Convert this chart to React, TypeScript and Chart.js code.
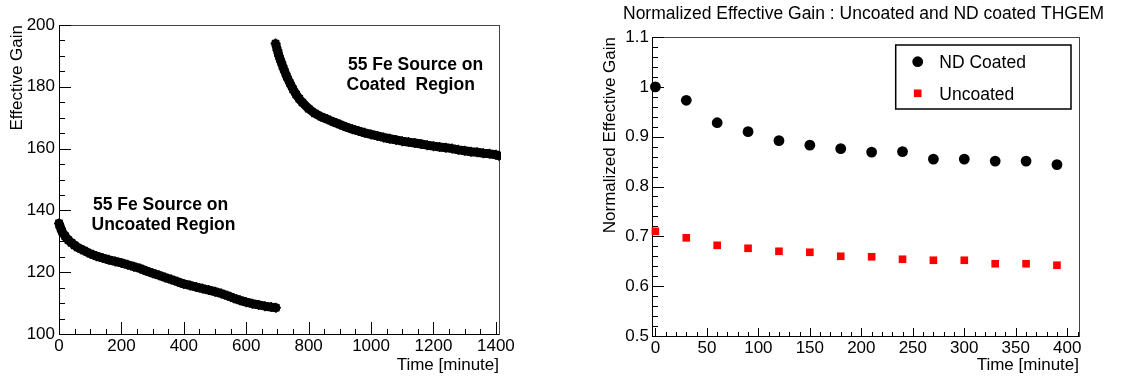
import React, { useEffect, useRef } from 'react';
import { Chart, registerables } from 'chart.js';

Chart.register(...registerables);

// ---------- Left panel data (Effective gain vs time) ----------
const uncoatedRunTime = [0, 5, 10, 20, 30, 40, 50, 60, 80, 100, 120, 140, 160, 180, 200, 220, 240, 260, 280, 300, 320, 340, 360, 380, 400, 420, 440, 460, 480, 500, 520, 540, 560, 580, 600, 620, 640, 660, 680, 695];
const uncoatedRunGain = [135.8, 134.3, 133.1, 131.6, 130.4, 129.5, 128.7, 128.0, 127.0, 126.0, 125.2, 124.6, 124.0, 123.5, 123.0, 122.4, 121.8, 121.2, 120.4, 119.7, 119.0, 118.3, 117.6, 116.9, 116.2, 115.7, 115.2, 114.7, 114.2, 113.7, 113.1, 112.4, 111.6, 110.9, 110.3, 109.8, 109.4, 109.0, 108.7, 108.5];
const coatedRunTime = [694, 700, 705, 712, 720, 730, 740, 750, 760, 770, 780, 800, 820, 840, 860, 880, 900, 920, 940, 960, 980, 1000, 1020, 1040, 1060, 1080, 1100, 1120, 1140, 1160, 1180, 1200, 1220, 1240, 1260, 1280, 1300, 1320, 1340, 1360, 1380, 1400, 1410];
const coatedRunGain = [194.0, 191.8, 190.0, 188.0, 185.8, 183.3, 181.2, 179.2, 177.5, 176.1, 174.9, 172.9, 171.4, 170.3, 169.5, 168.6, 167.8, 167.0, 166.3, 165.7, 165.1, 164.6, 164.1, 163.6, 163.2, 162.8, 162.4, 162.1, 161.8, 161.5, 161.1, 160.8, 160.5, 160.3, 160.0, 159.6, 159.3, 159.0, 158.8, 158.5, 158.3, 158.0, 157.7];
const leftXTicks = [0, 200, 400, 600, 800, 1000, 1200, 1400];
const leftYTicks = [100, 120, 140, 160, 180, 200];

// ---------- Right panel data (normalized gain) ----------
const normTime = [0, 30, 60, 90, 120, 150, 180, 210, 240, 270, 300, 330, 360, 390];
const ndCoatedGain = [1.0, 0.973, 0.928, 0.910, 0.892, 0.883, 0.876, 0.869, 0.870, 0.855, 0.855, 0.851, 0.851, 0.844];
const uncoatedGain = [0.710, 0.697, 0.682, 0.676, 0.670, 0.668, 0.660, 0.659, 0.654, 0.652, 0.652, 0.645, 0.645, 0.642];
const rightXTicks = [0, 50, 100, 150, 200, 250, 300, 350, 400];
const rightYTicks = [0.5, 0.6, 0.7, 0.8, 0.9, 1, 1.1];

const FONT = '"Liberation Sans", Arial, Helvetica, sans-serif';

const zip = (xs: number[], ys: number[]) => xs.map((x, i) => ({ x, y: ys[i] }));

// Draws a ROOT-like frame with inward tick marks
const rootFrame = {
  id: 'rootFrame',
  beforeDatasetsDraw(chart: any, _args: any, opts: any) {
    const { ctx, chartArea: a, scales } = chart;
    const xs = scales.x;
    const ys = scales.y;
    ctx.save();
    ctx.lineWidth = 1;
    ctx.strokeStyle = '#444';
    ctx.strokeRect(Math.round(a.left) + 0.5, Math.round(a.top) + 0.5, Math.round(a.right - a.left), Math.round(a.bottom - a.top));
    ctx.strokeStyle = '#000';
    ctx.beginPath();
    ctx.moveTo(Math.round(a.left) + 0.5, a.top);
    ctx.lineTo(Math.round(a.left) + 0.5, Math.round(a.bottom) + 0.5);
    ctx.lineTo(a.right, Math.round(a.bottom) + 0.5);
    ctx.stroke();
    const isMajor = (v: number, list: number[]) => list.some((t) => Math.abs(t - v) < 1e-6);
    ctx.beginPath();
    for (let i = 0; ; i++) {
      const v = opts.xStart + i * opts.xMinor;
      if (v > xs.max + 1e-9) break;
      if (v < xs.min - 1e-9) continue;
      const px = Math.round(xs.getPixelForValue(v)) + 0.5;
      const len = isMajor(v, opts.xMajorList) ? opts.xMajorLen : opts.xMinorLen;
      ctx.moveTo(px, a.bottom);
      ctx.lineTo(px, a.bottom - len);
    }
    for (let i = 0; ; i++) {
      const v = opts.yStart + i * opts.yMinor;
      if (v > ys.max + 1e-9) break;
      const py = Math.round(ys.getPixelForValue(v)) + 0.5;
      const len = isMajor(Math.round(v * 1e6) / 1e6, opts.yMajorList) ? opts.yMajorLen : opts.yMinorLen;
      ctx.moveTo(a.left, py);
      ctx.lineTo(a.left + len, py);
    }
    ctx.stroke();
    ctx.restore();
  },
};

// Free text (titles, annotations)
const freeText = {
  id: 'freeText',
  afterDraw(chart: any, _args: any, opts: any) {
    const { ctx } = chart;
    ctx.save();
    ctx.fillStyle = '#000';
    ctx.textBaseline = 'alphabetic';
    ctx.textAlign = 'left';
    (opts.items || []).forEach((it: any) => {
      ctx.font = it.font;
      ctx.fillText(it.text, it.x, it.y);
    });
    ctx.restore();
  },
};

// ROOT-like legend box
const boxLegend = {
  id: 'boxLegend',
  afterDraw(chart: any, _args: any, opts: any) {
    if (!opts || !opts.show) return;
    const { ctx } = chart;
    ctx.save();
    ctx.fillStyle = '#fff';
    ctx.fillRect(opts.left, opts.top, opts.right - opts.left, opts.bottom - opts.top);
    ctx.lineWidth = 1.5;
    ctx.strokeStyle = '#000';
    ctx.strokeRect(opts.left, opts.top, opts.right - opts.left, opts.bottom - opts.top);
    chart.data.datasets.forEach((ds: any, i: number) => {
      const cy = opts.rows[i];
      ctx.fillStyle = ds.backgroundColor;
      if (ds.pointStyle === 'rect') {
        const s = ds.pointRadius * Math.SQRT1_2;
        ctx.fillRect(opts.markerX - s, cy - s, 2 * s, 2 * s);
      } else {
        ctx.beginPath();
        ctx.arc(opts.markerX, cy, ds.pointRadius, 0, Math.PI * 2);
        ctx.fill();
      }
      ctx.fillStyle = '#000';
      ctx.font = `17.5px ${FONT}`;
      ctx.textBaseline = 'alphabetic';
      ctx.fillText(ds.label, opts.textX, cy + 6.6);
    });
    ctx.restore();
  },
};

function bandDataset(label: string, xs: number[], ys: number[], clip: any) {
  return {
    label,
    data: zip(xs, ys),
    showLine: true,
    borderColor: '#000',
    backgroundColor: '#000',
    borderWidth: 9,
    borderJoinStyle: 'round',
    borderCapStyle: 'round',
    pointStyle: 'star',
    pointRadius: 5,
    pointBorderWidth: 1.5,
    pointBorderColor: '#000',
    clip,
  };
}

function leftConfig(): any {
  return {
    type: 'scatter',
    data: {
      datasets: [
        bandDataset('Uncoated region', uncoatedRunTime, uncoatedRunGain, 6),
        bandDataset('Coated region', coatedRunTime, coatedRunGain, { left: 6, top: 6, right: 2, bottom: 6 }),
      ],
    },
    options: {
      responsive: false,
      animation: false,
      layout: { padding: { left: 0, top: 25, right: 61, bottom: 0 } },
      plugins: {
        legend: { display: false },
        tooltip: { enabled: false },
        rootFrame: {
          xStart: 0, xMinor: 50, xMajorList: leftXTicks, xMajorLen: 12, xMinorLen: 5,
          yStart: 100, yMinor: 5, yMajorList: leftYTicks, yMajorLen: 12, yMinorLen: 6,
        },
        freeText: {
          items: [
            { text: '55 Fe Source on', x: 348, y: 70, font: `bold 17.5px ${FONT}` },
            { text: 'Coated  Region', x: 346.5, y: 90, font: `bold 17.5px ${FONT}` },
            { text: '55 Fe Source on', x: 93, y: 209.5, font: `bold 17.5px ${FONT}` },
            { text: 'Uncoated Region', x: 91.5, y: 229.5, font: `bold 17.5px ${FONT}` },
          ],
        },
      },
      scales: {
        x: {
          type: 'linear',
          min: 0,
          max: 1410,
          afterBuildTicks: (s: any) => { s.ticks = leftXTicks.map((v) => ({ value: v })); },
          afterFit: (s: any) => { s.height = 46; },
          grid: { display: false, drawTicks: false },
          border: { display: false },
          ticks: { autoSkip: false, maxRotation: 0, padding: 2, color: '#000', font: { family: FONT, size: 17 }, callback: (v: any) => String(v) },
          title: { display: true, text: 'Time [minute]', align: 'end', color: '#000', font: { family: FONT, size: 17 }, padding: { top: 0, bottom: 4 } },
        },
        y: {
          type: 'linear',
          min: 100,
          max: 200,
          afterBuildTicks: (s: any) => { s.ticks = leftYTicks.map((v) => ({ value: v })); },
          afterFit: (s: any) => { s.width = 59; },
          grid: { display: false, drawTicks: false },
          border: { display: false },
          ticks: { autoSkip: false, padding: 4, color: '#000', font: { family: FONT, size: 17 }, callback: (v: any) => String(v) },
          title: { display: true, text: 'Effective Gain', align: 'end', color: '#000', font: { family: FONT, size: 17 }, padding: { top: 7, bottom: 0 } },
        },
      },
    },
    plugins: [rootFrame, freeText],
  };
}

function rightConfig(): any {
  return {
    type: 'scatter',
    data: {
      datasets: [
        {
          label: 'ND Coated',
          data: zip(normTime, ndCoatedGain),
          backgroundColor: '#000',
          borderColor: '#000',
          pointStyle: 'circle',
          pointRadius: 5.4,
          pointBorderWidth: 0,
          clip: 8,
        },
        {
          label: 'Uncoated',
          data: zip(normTime, uncoatedGain),
          backgroundColor: '#ff0000',
          borderColor: '#ff0000',
          pointStyle: 'rect',
          pointRadius: 5.4,
          pointBorderWidth: 0,
          clip: 8,
        },
      ],
    },
    options: {
      responsive: false,
      animation: false,
      layout: { padding: { left: 0, top: 37, right: 48, bottom: 0 } },
      plugins: {
        legend: { display: false },
        tooltip: { enabled: false },
        rootFrame: {
          xStart: 0, xMinor: 10, xMajorList: rightXTicks, xMajorLen: 8, xMinorLen: 4,
          yStart: 0.5, yMinor: 0.02, yMajorList: rightYTicks, yMajorLen: 12, yMinorLen: 6,
        },
        freeText: {
          items: [
            { text: 'Normalized Effective Gain : Uncoated and ND coated THGEM', x: 63, y: 19.3, font: `17.5px ${FONT}` },
          ],
        },
        boxLegend: {
          show: true, left: 335.7, right: 511, top: 45, bottom: 109,
          markerX: 357.7, textX: 379.3, rows: [61.7, 93.3],
        },
      },
      scales: {
        x: {
          type: 'linear',
          min: -3.3,
          max: 411.4,
          afterBuildTicks: (s: any) => { s.ticks = rightXTicks.map((v) => ({ value: v })); },
          afterFit: (s: any) => { s.height = 44; },
          grid: { display: false, drawTicks: false },
          border: { display: false },
          ticks: { autoSkip: false, maxRotation: 0, padding: 2, color: '#000', font: { family: FONT, size: 17 }, callback: (v: any) => String(v) },
          title: { display: true, text: 'Time [minute]', align: 'end', color: '#000', font: { family: FONT, size: 17 }, padding: { top: 0, bottom: 4 } },
        },
        y: {
          type: 'linear',
          min: 0.5,
          max: 1.1,
          afterBuildTicks: (s: any) => { s.ticks = rightYTicks.map((v) => ({ value: v })); },
          afterFit: (s: any) => { s.width = 92; },
          grid: { display: false, drawTicks: false },
          border: { display: false },
          ticks: { autoSkip: false, padding: 3, color: '#000', font: { family: FONT, size: 17 }, callback: (v: any) => String(v) },
          title: { display: true, text: 'Normalized Effective Gain', align: 'end', color: '#000', font: { family: FONT, size: 17 }, padding: { top: 40, bottom: 0 } },
        },
      },
    },
    plugins: [rootFrame, freeText, boxLegend],
  };
}

export default function App() {
  const leftRef = useRef<HTMLCanvasElement>(null);
  const rightRef = useRef<HTMLCanvasElement>(null);

  useEffect(() => {
    const c1 = new Chart(leftRef.current as HTMLCanvasElement, leftConfig());
    const c2 = new Chart(rightRef.current as HTMLCanvasElement, rightConfig());
    return () => {
      c1.destroy();
      c2.destroy();
    };
  }, []);

  return (
    <div style={{ position: 'fixed', left: 0, top: 0, width: 1127, height: 380, background: '#fff' }}>
      <canvas ref={leftRef} width={560} height={380} style={{ position: 'absolute', left: 0, top: 0, width: 560, height: 380 }} />
      <canvas ref={rightRef} width={567} height={380} style={{ position: 'absolute', left: 560, top: 0, width: 567, height: 380 }} />
    </div>
  );
}
